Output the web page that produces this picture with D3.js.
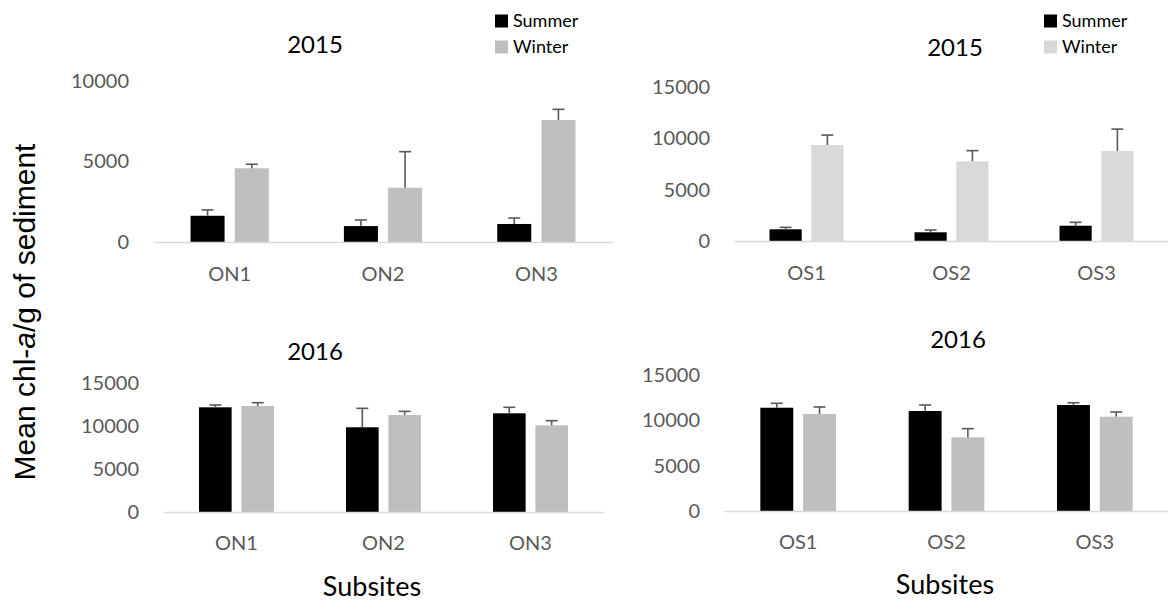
<!DOCTYPE html>
<html>
<head>
<meta charset="utf-8">
<script src="https://d3js.org/d3.v7.min.js"></script>
<style>
  body { margin: 0; background: #fff; }
  svg text { font-family: Lato, "Open Sans", sans-serif; }
</style>
</head>
<body>
<svg width="1168" height="603" class="chart"></svg>
<script>
  // DATA
  const northSites = ["ON1", "ON2", "ON3"];
  const southSites = ["OS1", "OS2", "OS3"];
  const seasons = ["Summer", "Winter"];

  const north2015Summer = [1630, 990, 1120];
  const north2015SummerErr = [360, 380, 370];
  const north2015Winter = [4580, 3370, 7580];
  const north2015WinterErr = [250, 2240, 660];

  const south2015Summer = [1140, 850, 1490];
  const south2015SummerErr = [190, 220, 330];
  const south2015Winter = [9350, 7760, 8770];
  const south2015WinterErr = [970, 1040, 2130];

  const north2016Summer = [12220, 9890, 11520];
  const north2016SummerErr = [270, 2210, 700];
  const north2016Winter = [12370, 11320, 10120];
  const north2016WinterErr = [390, 430, 540];

  const south2016Summer = [11390, 11030, 11690];
  const south2016SummerErr = [490, 660, 250];
  const south2016Winter = [10700, 8130, 10400];
  const south2016WinterErr = [770, 950, 520];

  const ticks10k = [0, 5000, 10000];
  const ticks15k = [0, 5000, 10000, 15000];

  const svg = d3.select(".chart");
  const tickColor = "#595959";
  const errColor = "#595959";

  function drawPanel(p) {
    const x = d3.scaleBand().domain(p.sites).range([p.x0, p.x1]);
    const y = d3.scaleLinear().domain([0, p.max]).range([p.y0, p.y1]);
    const groupW = x.bandwidth() * 0.51;
    const inner = d3.scaleBand().domain(seasons).range([0, groupW]).paddingInner(0.23);
    const offset = (x.bandwidth() - groupW) / 2;

    const rows = p.sites.map((s, i) => ({
      site: s,
      vals: [
        {season: "Summer", v: p.summer[i], e: p.summerErr[i]},
        {season: "Winter", v: p.winter[i], e: p.winterErr[i]}
      ]
    }));

    // y axis labels
    const ya = svg.append("g")
      .attr("transform", "translate(" + p.x0 + ",0)")
      .call(d3.axisLeft(y).tickValues(p.ticks).tickSize(0).tickPadding(24).tickFormat(d3.format("d")));
    ya.select(".domain").remove();
    ya.selectAll("text")
      .style("font-family", "Lato, sans-serif")
      .style("font-size", "20px")
      .attr("fill", tickColor);

    // bars
    const groups = svg.selectAll(".grp-" + p.id)
      .data(rows)
      .enter().append("g")
      .attr("class", "grp-" + p.id)
      .attr("transform", d => "translate(" + (x(d.site) + offset) + ",0)");

    groups.selectAll("rect")
      .data(d => d.vals)
      .enter().append("rect")
      .attr("x", d => inner(d.season))
      .attr("y", d => y(d.v))
      .attr("width", inner.bandwidth())
      .attr("height", d => y(0) - y(d.v))
      .attr("fill", d => d.season === "Summer" ? "#000000" : p.winterColor);

    // error bars
    groups.selectAll(".err")
      .data(d => d.vals)
      .enter().append("line")
      .attr("class", "err")
      .attr("x1", d => inner(d.season) + inner.bandwidth() / 2)
      .attr("x2", d => inner(d.season) + inner.bandwidth() / 2)
      .attr("y1", d => y(d.v))
      .attr("y2", d => y(d.v + d.e))
      .attr("stroke", errColor)
      .attr("stroke-width", 1.6);

    groups.selectAll(".cap")
      .data(d => d.vals)
      .enter().append("line")
      .attr("class", "cap")
      .attr("x1", d => inner(d.season) + inner.bandwidth() / 2 - 6)
      .attr("x2", d => inner(d.season) + inner.bandwidth() / 2 + 6)
      .attr("y1", d => y(d.v + d.e))
      .attr("y2", d => y(d.v + d.e))
      .attr("stroke", errColor)
      .attr("stroke-width", 1.6);

    // x axis
    const xa = svg.append("g")
      .attr("transform", "translate(0," + p.y0 + ")")
      .call(d3.axisBottom(x).tickSize(0).tickPadding(p.labelPad));
    xa.select(".domain")
      .attr("stroke", "#d9d9d9")
      .attr("stroke-width", 1.6);
    xa.selectAll("text")
      .style("font-family", "Lato, sans-serif")
      .style("font-size", "20px")
      .attr("fill", tickColor);

    // title
    svg.append("text")
      .attr("x", p.titleX)
      .attr("y", p.titleY)
      .attr("dy", "0.35em")
      .attr("text-anchor", "middle")
      .style("font-size", "24px")
      .attr("fill", "#000")
      .text(p.title);

    // legend
    if (p.legendX) {
      seasons.forEach((s, i) => {
        const ly = 21 + i * 26;
        svg.append("rect")
          .attr("x", p.legendX)
          .attr("y", ly - 6.5)
          .attr("width", 13)
          .attr("height", 13)
          .attr("fill", s === "Summer" ? "#000000" : p.winterColor);
        svg.append("text")
          .attr("x", p.legendX + 18)
          .attr("y", ly)
          .attr("dy", "0.35em")
          .style("font-size", "18px")
          .attr("fill", "#000")
          .text(s);
      });
    }

    if (p.xTitleX) {
      svg.append("text")
        .attr("x", p.xTitleX)
        .attr("y", p.xTitleY)
        .attr("dy", "0.35em")
        .attr("text-anchor", "middle")
        .style("font-size", "27px")
        .attr("fill", "#000")
        .text("Subsites");
    }
  }

  drawPanel({id: "n15", sites: northSites, summer: north2015Summer, summerErr: north2015SummerErr,
    winter: north2015Winter, winterErr: north2015WinterErr, max: 10000, ticks: ticks10k,
    x0: 153, x1: 613, y0: 242, y1: 81, labelPad: 25, winterColor: "#bfbfbf",
    title: "2015", titleX: 315, titleY: 45, legendX: 495});

  drawPanel({id: "s15", sites: southSites, summer: south2015Summer, summerErr: south2015SummerErr,
    winter: south2015Winter, winterErr: south2015WinterErr, max: 15000, ticks: ticks15k,
    x0: 734, x1: 1169, y0: 241, y1: 87, labelPad: 25, winterColor: "#d9d9d9",
    title: "2015", titleX: 955, titleY: 48, legendX: 1044});

  drawPanel({id: "n16", sites: northSites, summer: north2016Summer, summerErr: north2016SummerErr,
    winter: north2016Winter, winterErr: north2016WinterErr, max: 15000, ticks: ticks15k,
    x0: 163, x1: 604, y0: 512, y1: 383.5, labelPad: 24, winterColor: "#bfbfbf",
    title: "2016", titleX: 315, titleY: 352, xTitleX: 372, xTitleY: 587});

  drawPanel({id: "s16", sites: southSites, summer: south2016Summer, summerErr: south2016SummerErr,
    winter: south2016Winter, winterErr: south2016WinterErr, max: 15000, ticks: ticks15k,
    x0: 724, x1: 1169, y0: 511, y1: 375, labelPad: 24, winterColor: "#bfbfbf",
    title: "2016", titleX: 958, titleY: 340, xTitleX: 945, xTitleY: 585});

  // shared y axis title
  const yTitle = svg.append("text")
    .attr("transform", "translate(35,312) rotate(-90)")
    .attr("text-anchor", "middle")
    .style("font-family", "'Liberation Sans', Arial, sans-serif")
    .style("font-size", "30px")
    .attr("fill", "#000");
  yTitle.append("tspan").text("Mean chl-");
  yTitle.append("tspan").style("font-style", "italic").text("a");
  yTitle.append("tspan").text("/g of sediment");
</script>
</body>
</html>
